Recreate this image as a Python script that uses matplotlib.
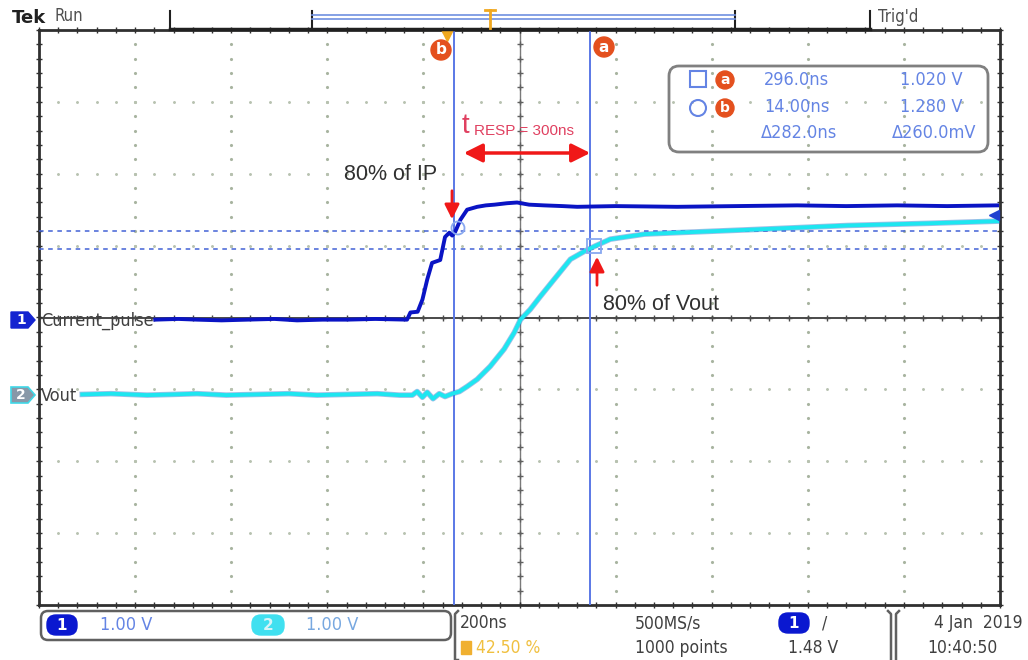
import numpy as np
import matplotlib.pyplot as plt
from matplotlib.patches import FancyBboxPatch, Polygon, Circle, Rectangle

W, H = 1028, 660

# waveform samples (time in ns, volts)
ch1_t = [-608, -560, -521, -470, -417, -360, -313, -260, -209, -150, -84, -77, -62, -52,
         -42, -32, -15, -5, 4, 10, 16, 27, 41, 62, 80, 98, 124, 145, 170, 201, 240, 270,
         350, 478, 600, 728, 830, 936, 1040, 1144]
ch1_v = [0.0, 0.01, 0.0, -0.01, 0.0, 0.01, -0.01, 0.0, 0.0, 0.01, 0.0, 0.10, 0.11, 0.28,
         0.56, 0.79, 0.83, 1.15, 1.21, 1.17, 1.22, 1.39, 1.53, 1.57, 1.59, 1.60, 1.62, 1.63,
         1.60, 1.59, 1.58, 1.57, 1.58, 1.57, 1.58, 1.59, 1.58, 1.59, 1.58, 1.59]

ch2_t = [-760, -700, -625, -570, -521, -460, -396, -330, -271, -210, -146, -100, -73, -63,
         -52, -42, -30, -17, -5, 10, 25, 41, 62, 89, 118, 139, 152, 172, 193, 222, 256,
         285, 306, 339, 410, 478, 624, 832, 1000, 1144]
ch2_v = [0.0, 0.01, -0.01, 0.0, 0.01, -0.01, 0.0, 0.01, -0.01, 0.0, 0.01, -0.01, -0.01, 0.04,
         -0.04, 0.03, -0.06, 0.01, -0.03, 0.01, 0.04, 0.11, 0.21, 0.39, 0.63, 0.86, 1.04, 1.18,
         1.36, 1.60, 1.88, 1.99, 2.06, 2.16, 2.23, 2.25, 2.29, 2.35, 2.38, 2.41]

ch1_pos = -0.03   # divisions
ch2_pos = -1.07
volts_per_div = 1.0

cursor_b_t = 14.0
cursor_a_t = 296.0
cursor_levels = [1.21, 0.96]   # divisions
trig_level = 1.43

readout_rows = [("296.0ns", "1.020 V"), ("14.00ns", "1.280 V"), ("\u0394282.0ns", "\u0394260.0mV")]

narrow = ['DejaVu Sans']
arial = ['Liberation Sans', 'DejaVu Sans']
gray_txt = '#404040'
lblue = '#6484e4'

fig = plt.figure(figsize=(W / 100, H / 100), dpi=100)
fig.patch.set_facecolor('white')

ax = fig.add_axes([39 / W, 1 - 605 / H, 961 / W, 575 / H])
ax.set_xlim(-850, 1150)
ax.set_ylim(-4, 4)
ax.set_xticks([])
ax.set_yticks([])
for sp in ax.spines.values():
    sp.set_color('#303030')
    sp.set_linewidth(2)

# graticule dots
xs_grid = [-850 + 200 * k for k in range(1, 10)]
ys_grid = [j for j in range(-3, 4)]
ydots = np.arange(-4, 4.01, 0.2)
xdots = np.arange(-850, 1150.1, 40)
for xg in xs_grid:
    if xg != 150:
        ax.plot([xg] * len(ydots), ydots, ls='none', marker='.', ms=2.5, color='#a8b4a0')
for yg in ys_grid:
    if yg != 0:
        ax.plot(xdots, [yg] * len(xdots), ls='none', marker='.', ms=2.2, color='#b8c2b0')

# center crosshair with minor ticks
ax.axhline(0, color='#4a4a4a', lw=1.4, zorder=2)
ax.plot(xdots, [0] * len(xdots), ls='none', marker='+', ms=5, mew=1, color='#4a4a4a')
ax.axvline(150, color='#7a7a7a', lw=1.0, zorder=2)
ax.plot([150] * len(ydots), ydots, ls='none', marker='+', ms=5, mew=1, color='#606060')

# border ticks
ax.plot(xdots, [-4] * len(xdots), ls='none', marker='|', ms=5, color='#303030', clip_on=False)
ax.plot(xdots, [4] * len(xdots), ls='none', marker='|', ms=5, color='#303030', clip_on=False)
ax.plot([-850] * len(ydots), ydots, ls='none', marker='_', ms=5, color='#303030', clip_on=False)
ax.plot([1150] * len(ydots), ydots, ls='none', marker='_', ms=5, color='#303030', clip_on=False)

# cursors
for lv in cursor_levels:
    ax.axhline(lv, color='#4262d6', lw=1.1, ls=(0, (3, 3)), zorder=3)
ax.axvline(cursor_b_t, color='#5a78e6', lw=1.4, zorder=3)
ax.axvline(cursor_a_t, color='#5a78e6', lw=1.4, zorder=3)

# traces
v2 = np.array(ch2_v) / volts_per_div + ch2_pos
ax.plot(ch2_t, v2, color='#3070c8', lw=4, alpha=0.45, zorder=4)
ax.plot(ch2_t, v2, color='#1ee6f0', lw=2.8, zorder=5)
ax.plot(ch1_t, np.array(ch1_v) / volts_per_div + ch1_pos, color='#0a14c4', lw=2.8, zorder=6)
ax.plot([1138], [trig_level], marker='<', ms=7, color='#2040d0', zorder=7)
ax.plot([0], [3.93], marker='v', ms=8, color='#f0a820', clip_on=False, zorder=7)

# overlay in pixel coordinates
ov = fig.add_axes([0, 0, 1, 1])
ov.set_xlim(0, W)
ov.set_ylim(H, 0)
ov.axis('off')

# top status bar
ov.text(12, 18, 'Tek', fontsize=13, fontweight='bold', color='#202020', va='center', family=narrow)
ov.text(55, 16, 'Run', fontsize=12, color='#505050', va='center', family=narrow, stretch='condensed')
ov.plot([170, 870], [29, 29], color='#202020', lw=2.5)
for xt in [170, 312, 735, 870]:
    ov.plot([xt, xt], [11, 29], color='#202020', lw=1.5)
ov.plot([312, 735], [15, 15], color='#7090e0', lw=1.2)
ov.plot([312, 735], [19, 19], color='#7090e0', lw=1.2)
ov.plot([490, 490], [10, 28], color='#f0a820', lw=2)
ov.plot([485, 495], [10, 10], color='#f0a820', lw=2)
ov.text(878, 17, "Trig'd", fontsize=12, color='#505050', va='center', family=narrow, stretch='condensed')

# cursor labels
for cx, cy, ch in [(441, 50, 'b'), (604, 47, 'a')]:
    ov.add_patch(Circle((cx, cy), 10, color='#e4501e', zorder=8))
    ov.text(cx, cy, ch, color='white', fontsize=11, fontweight='bold', ha='center', va='center',
            zorder=9, family=narrow)

# readout box
ov.add_patch(FancyBboxPatch((669, 66), 319, 86, boxstyle='round,pad=0,rounding_size=10',
                            fill=False, ec='#808080', lw=2))
ov.add_patch(Rectangle((690, 71), 16, 16, fill=False, ec=lblue, lw=1.5))
ov.add_patch(Circle((698, 108), 8, fill=False, ec=lblue, lw=1.5))
for cy, ch in [(80, 'a'), (108, 'b')]:
    ov.add_patch(Circle((725, cy), 9, color='#e4501e'))
    ov.text(725, cy, ch, color='white', fontsize=10, fontweight='bold', ha='center', va='center',
            family=narrow)
col1_right = [829, 829, 837]
col2_right = [963, 963, 976]
for (c1, c2), ry, r1, r2 in zip(readout_rows, [80, 107, 133], col1_right, col2_right):
    ov.text(r1, ry, c1, fontsize=13, color=lblue, ha='right', va='center', family=narrow, stretch='condensed')
    ov.text(r2, ry, c2, fontsize=13, color=lblue, ha='right', va='center', family=narrow, stretch='condensed')

# response time annotation
ov.text(462, 126, 't', fontsize=20, color='#e04060', va='center', family=arial)
ov.text(474, 131, 'RESP = 300ns', fontsize=11, color='#e04060', va='center', family=arial)
ov.annotate('', xy=(593, 153), xytext=(461, 153),
            arrowprops=dict(arrowstyle='<|-|>', color='#f01818', lw=2.5, mutation_scale=28))
ov.text(344, 175, '80% of IP', fontsize=15.5, color='#303030', va='center', family=arial)
ov.annotate('', xy=(452, 222), xytext=(452, 188),
            arrowprops=dict(arrowstyle='-|>', color='#f01818', lw=2, mutation_scale=22))
ov.annotate('', xy=(597, 254), xytext=(597, 288),
            arrowprops=dict(arrowstyle='-|>', color='#f01818', lw=2, mutation_scale=22))
ov.text(603, 305, '80% of Vout', fontsize=15.5, color='#303030', va='center', family=arial)
ov.add_patch(Circle((458, 228), 6.5, fill=False, ec='#88a8f0', lw=1.3, zorder=8))
ov.add_patch(Rectangle((587, 239), 14, 14, fill=False, ec='#88a8f0', lw=1.3, zorder=8))

# channel markers
ov.add_patch(Polygon([(11, 312), (28, 312), (35, 320), (28, 328), (11, 328)], color='#1424d0'))
ov.text(21, 320, '1', color='white', fontsize=10, fontweight='bold', ha='center', va='center', family=narrow)
ov.text(41, 321, 'Current_pulse', fontsize=13, color=gray_txt, va='center', family=narrow, stretch='condensed')
ov.add_patch(Polygon([(11, 387), (28, 387), (35, 395), (28, 403), (11, 403)], fc='#8898a8', ec='#40d8e8', lw=1.2))
ov.text(21, 395, '2', color='white', fontsize=10, fontweight='bold', ha='center', va='center', family=narrow)
ov.text(41, 396, 'Vout', fontsize=13, color=gray_txt, va='center', family=narrow, stretch='condensed')

# bottom info panel
ov.add_patch(FancyBboxPatch((41, 611), 410, 29, boxstyle='round,pad=0,rounding_size=7',
                            fill=False, ec='#606060', lw=1.8))
ov.add_patch(FancyBboxPatch((47, 615), 30, 20, boxstyle='round,pad=0,rounding_size=9', color='#0a18d0'))
ov.text(62, 625, '1', color='white', fontsize=11, fontweight='bold', ha='center', va='center', family=narrow)
ov.text(100, 625, '1.00 V', fontsize=13, color=lblue, va='center', family=narrow, stretch='condensed')
ov.add_patch(FancyBboxPatch((252, 615), 32, 20, boxstyle='round,pad=0,rounding_size=9', color='#40e0f0'))
ov.text(268, 625, '2', color='#d8f4f8', fontsize=11, fontweight='bold', ha='center', va='center', family=narrow)
ov.text(306, 625, '1.00 V', fontsize=13, color='#78a8e0', va='center', family=narrow, stretch='condensed')

ov.plot([458, 455, 455, 458], [611, 614, 660, 660], color='#606060', lw=1.8)
ov.plot([888, 891, 891], [611, 614, 660], color='#606060', lw=1.8)
ov.plot([899, 896, 896], [611, 614, 660], color='#606060', lw=1.8)
bt = dict(fontsize=12.5, color=gray_txt, va='center', family=narrow, stretch='condensed')
ov.text(460, 623, '200ns', **bt)
ov.add_patch(Rectangle((461, 641), 10, 13, color='#f0b030'))
ov.text(476, 648, '42.50 %', fontsize=12.5, color='#f0c040', va='center', family=narrow, stretch='condensed')
ov.text(635, 623, '500MS/s', **bt)
ov.text(635, 648, '1000 points', **bt)
ov.add_patch(FancyBboxPatch((779, 613), 30, 20, boxstyle='round,pad=0,rounding_size=9', color='#0a18d0'))
ov.text(794, 623, '1', color='white', fontsize=11, fontweight='bold', ha='center', va='center', family=narrow)
ov.text(822, 623, '/', **bt)
ov.text(788, 648, '1.48 V', **bt)
ov.text(934, 623, '4 Jan  2019', **bt)
ov.text(927, 648, '10:40:50', **bt)

fig.savefig('out.png', dpi=100)
